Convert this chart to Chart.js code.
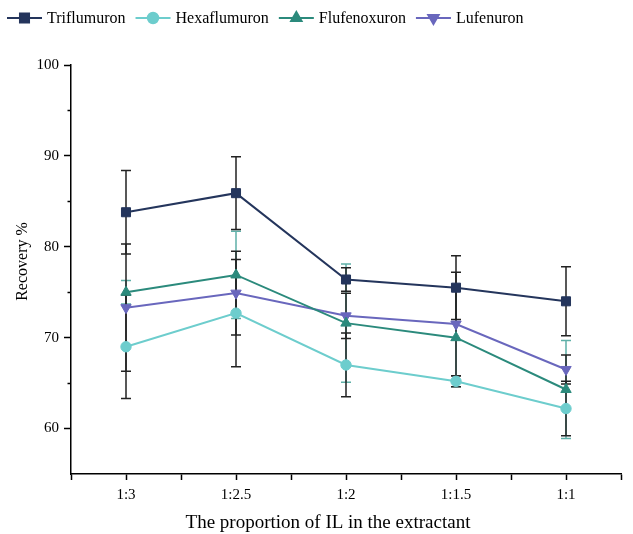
<!DOCTYPE html>
<html>
<head>
    <title>Recovery vs IL proportion</title>
    <script src="https://cdn.jsdelivr.net/npm/chart.js"></script>
    <style>
        body { margin: 0; background: #fff; }
        .chart-container { width: 633px; height: 534px; position: relative; }
    </style>
</head>
<body>
    <div class="chart-container">
        <canvas id="recoveryChart"></canvas>
    </div>
<script>
    const categories = ['1:3', '1:2.5', '1:2', '1:1.5', '1:1'];

    const triflumuron = [83.8, 85.9, 76.4, 75.5, 74.0];
    const triflumuronErr = [4.6, 4.0, 1.3, 3.5, 3.8];

    const hexaflumuron = [69.0, 72.7, 67.0, 65.2, 62.2];
    const hexaflumuronErr = [5.7, 5.9, 3.5, 0.6, 3.0];

    const flufenoxuron = [75.0, 76.9, 71.6, 70.0, 64.3];
    const flufenoxuronErr = [1.3, 4.8, 6.5, 5.4, 5.4];

    const lufenuron = [73.3, 74.9, 72.4, 71.5, 66.5];
    const lufenuronErr = [7.0, 4.6, 2.5, 5.7, 1.6];

    const xTitle = 'The proportion of IL in the extractant';
    const yTitle = 'Recovery %';

    const yMin = 55, yMax = 100;
    const serif = "'Liberation Serif', 'Times New Roman', serif";

    // series as drawn: marker style, colours, error bar colour
    const series = [
        { label: 'Triflumuron', values: triflumuron, errors: triflumuronErr, color: '#24355c', marker: 'rect', radius: 6.4, rotation: 0, errColor: '#222222' },
        { label: 'Hexaflumuron', values: hexaflumuron, errors: hexaflumuronErr, color: '#6dcdcd', marker: 'circle', radius: 5.2, rotation: 0, errColor: '#222222' },
        { label: 'Flufenoxuron', values: flufenoxuron, errors: flufenoxuronErr, color: '#2b8a7c', marker: 'triangle', radius: 6, rotation: 0, errColor: '#5fb0a8' },
        { label: 'Lufenuron', values: lufenuron, errors: lufenuronErr, color: '#6967bd', marker: 'triangle', radius: 6, rotation: 180, errColor: '#222222' }
    ];

    // flufenoxuron bars go first so the dark ones sit on top
    const errorDrawOrder = [2, 1, 3, 0];

    const errorBars = {
        id: 'errorBars',
        beforeDatasetsDraw(chart) {
            const ctx = chart.ctx;
            const yScale = chart.scales.y;
            ctx.save();
            errorDrawOrder.forEach(i => {
                const ds = chart.data.datasets[i];
                const meta = chart.getDatasetMeta(i);
                ctx.strokeStyle = ds.errColor;
                ctx.lineWidth = 1.5;
                meta.data.forEach((pt, j) => {
                    const v = ds.data[j].y;
                    const e = ds.errors[j];
                    const yTop = yScale.getPixelForValue(v + e);
                    const yBot = yScale.getPixelForValue(v - e);
                    const x = pt.x;
                    ctx.beginPath();
                    ctx.moveTo(x, yTop);
                    ctx.lineTo(x, yBot);
                    ctx.moveTo(x - 5, yTop);
                    ctx.lineTo(x + 5, yTop);
                    ctx.moveTo(x - 5, yBot);
                    ctx.lineTo(x + 5, yBot);
                    ctx.stroke();
                });
            });
            ctx.restore();
        }
    };

    // minor ticks on the y axis, half as long as the labelled ones
    const minorTicks = {
        id: 'minorTicks',
        afterDraw(chart) {
            const ctx = chart.ctx;
            const yScale = chart.scales.y;
            const left = chart.chartArea.left;
            ctx.save();
            ctx.strokeStyle = '#000';
            ctx.lineWidth = 1.5;
            for (let v = 65; v < yMax; v += 10) {
                const y = Math.round(yScale.getPixelForValue(v)) + 0.5;
                ctx.beginPath();
                ctx.moveTo(left - 3.5, y);
                ctx.lineTo(left, y);
                ctx.stroke();
            }
            ctx.restore();
        }
    };

    // axis titles, drawn by hand so they sit a little left of / above centre
    const axisTitles = {
        id: 'axisTitles',
        afterDraw(chart) {
            const ctx = chart.ctx;
            const area = chart.chartArea;
            ctx.save();
            ctx.fillStyle = '#000';
            ctx.textAlign = 'center';
            ctx.textBaseline = 'middle';
            ctx.font = '19px ' + serif;
            ctx.fillText(xTitle, (area.left + area.right) / 2 - 18, chart.height - 11);
            ctx.font = '16px ' + serif;
            ctx.translate(23, (area.top + area.bottom) / 2 - 8);
            ctx.rotate(-Math.PI / 2);
            ctx.fillText(yTitle, 0, 0);
            ctx.restore();
        }
    };

    function drawMarker(ctx, s, x, y) {
        Chart.helpers.drawPoint(ctx, {
            pointStyle: s.marker,
            radius: s.radius,
            rotation: s.rotation,
            borderWidth: 1
        }, x, y);
    }

    // legend across the top: line segment with marker, then the name
    const lineLegend = {
        id: 'lineLegend',
        afterDraw(chart) {
            const ctx = chart.ctx;
            ctx.save();
            ctx.font = '16px ' + serif;
            ctx.textBaseline = 'middle';
            let x = 7;
            const y = 18;
            series.forEach(s => {
                ctx.strokeStyle = s.color;
                ctx.fillStyle = s.color;
                ctx.lineWidth = 2;
                ctx.beginPath();
                ctx.moveTo(x, y);
                ctx.lineTo(x + 35, y);
                ctx.stroke();
                drawMarker(ctx, s, x + 17.5, y);
                ctx.fillStyle = '#000';
                ctx.fillText(s.label, x + 40, y + 1);
                x += 40 + ctx.measureText(s.label).width + 10;
            });
            ctx.restore();
        }
    };

    const datasets = series.map(s => ({
        label: s.label,
        data: s.values.map((v, i) => ({ x: i + 1, y: v })),
        errors: s.errors,
        errColor: s.errColor,
        borderColor: s.color,
        backgroundColor: s.color,
        borderWidth: 2,
        pointStyle: s.marker,
        pointRadius: s.radius,
        pointRotation: s.rotation,
        pointBorderWidth: 1,
        pointHoverRadius: s.radius,
        fill: false,
        tension: 0
    }));

    new Chart(document.getElementById('recoveryChart').getContext('2d'), {
        type: 'line',
        data: { datasets },
        plugins: [errorBars, minorTicks, axisTitles, lineLegend],
        options: {
            responsive: true,
            maintainAspectRatio: false,
            animation: false,
            layout: { padding: { top: 65, right: 12, left: 0, bottom: 0 } },
            plugins: {
                legend: { display: false },
                tooltip: { enabled: false }
            },
            scales: {
                x: {
                    type: 'linear',
                    min: 0.5,
                    max: 5.5,
                    afterFit: scale => { scale.height = 60; },
                    border: { display: true, color: '#000', width: 1.5 },
                    grid: { drawOnChartArea: false, drawTicks: true, tickLength: 6, tickColor: '#000', tickWidth: 1.5 },
                    ticks: {
                        stepSize: 0.5,
                        autoSkip: false,
                        maxRotation: 0,
                        padding: 6,
                        color: '#000',
                        font: { family: serif, size: 15 },
                        callback: v => Number.isInteger(v) ? categories[v - 1] : ''
                    }
                },
                y: {
                    min: yMin,
                    max: yMax,
                    afterFit: scale => { scale.width = 71; },
                    border: { display: true, color: '#000', width: 1.5 },
                    grid: { drawOnChartArea: false, drawTicks: true, tickLength: 7, tickColor: '#000', tickWidth: 1.5 },
                    ticks: {
                        stepSize: 10,
                        includeBounds: false,
                        padding: 5,
                        color: '#000',
                        font: { family: serif, size: 15 }
                    }
                }
            }
        }
    });
</script>
</body>
</html>
